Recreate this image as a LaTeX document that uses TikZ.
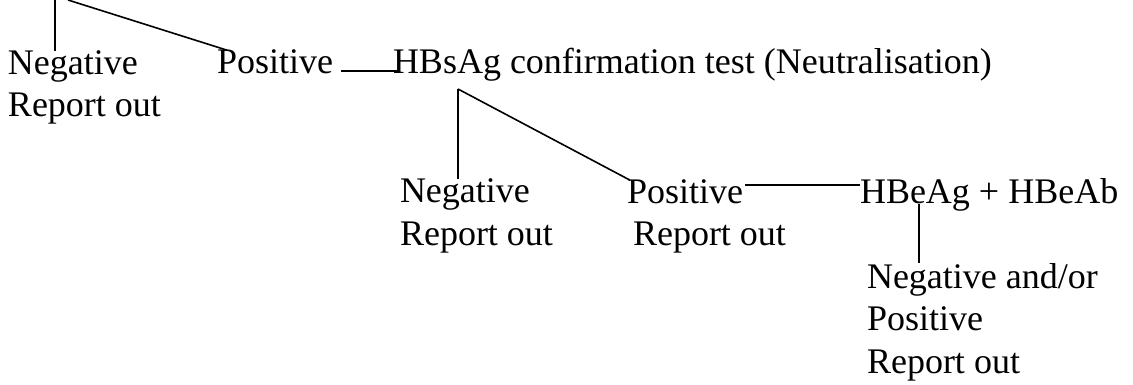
\documentclass[tikz,border=0pt]{standalone}
\usepackage{fontspec}
\setmainfont{Liberation Serif}
\usetikzlibrary{calc,positioning}
\tikzset{
  txt/.style = {inner sep=0pt,outer sep=0pt,anchor=base west,align=left,font=\fontsize{36}{42.5}\selectfont},
  ln/.style = {draw,black,line width=1.6pt}
}

\begin{document}
\begin{tikzpicture}[x=1pt,y=-1pt]
\useasboundingbox (0,0) rectangle (1133,385);

% first level (multi-line nodes sit on their last line)
\node[txt] (neg1) at (8,117) {Negative\\Report out};
\node[txt] (pos1) at (217,74) {Positive};
\node[txt] (conf) at (393,74) {HBsAg confirmation test (Neutralisation)};

% second level
\node[txt] (neg2) at (400,245) {Negative\\Report out};
\node[txt] (pos2) at (627,204) {Positive};
\node[txt] (pos2r) at (633,245) {Report out};
\node[txt] (hbe) at (860,204) {HBeAg + HBeAb};

% third level
\node[txt] (res) at (867,373) {Negative and/or\\Positive\\Report out};

% links from the level above (cut off)
\coordinate (tl) at (55,0);
\coordinate (tr) at (68,0);
\draw[ln] (tl) -- (tl |- neg1.north);
\draw[ln] (tr) -- ([xshift=10pt]pos1.north west);

\draw[ln] ([xshift=8pt,yshift=3pt]pos1.base east) -- ([xshift=5pt,yshift=3pt]conf.base west);

\coordinate (sa) at ([xshift=65pt,yshift=-15pt]conf.base west);
\draw[ln] (sa) -- (sa |- neg2.north);
\draw[ln] (sa) -- ([xshift=3pt]pos2.north west);

\draw[ln] ([xshift=2pt,yshift=19pt]pos2.base east) -- ([yshift=19pt]hbe.base west);

\coordinate (sb) at ([xshift=59pt]hbe.base west);
\draw[ln] (sb) -- (sb |- res.north);
\end{tikzpicture}
\end{document}
